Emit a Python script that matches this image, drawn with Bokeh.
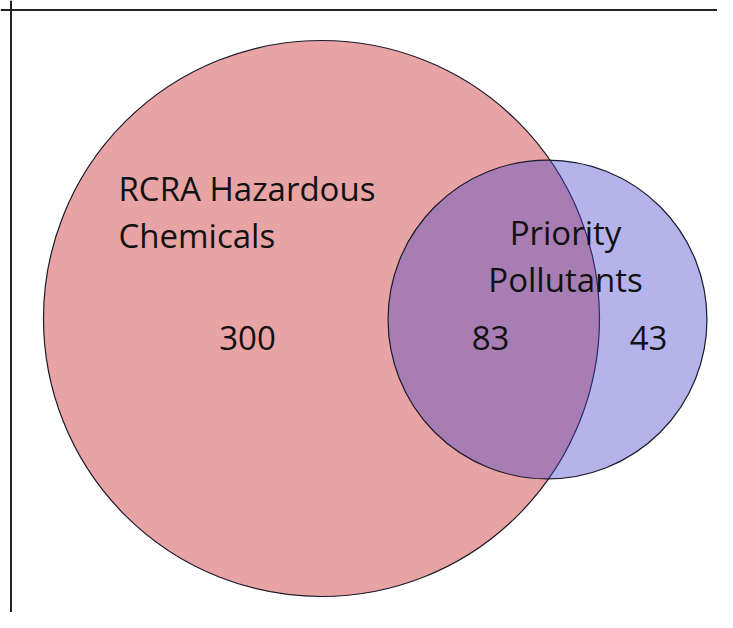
import math
from bokeh.plotting import figure
from bokeh.models import Range1d, Span, ColumnDataSource
from bokeh.core.properties import value
from bokeh.embed import file_html
from bokeh.resources import INLINE

# ---- data ----
set_labels = [["RCRA Hazardous", "Chemicals"], ["Priority", "Pollutants"]]
only_counts = [300, 43]
overlap_count = 83
set_totals = [only_counts[0] + overlap_count, only_counts[1] + overlap_count]

# ---- layout (pixel-like data space) ----
W, H = 717, 612
SCALE = 278 / math.sqrt(set_totals[0])
centers = [(321, 318), (547, 319)]
radii = [SCALE * math.sqrt(t) for t in set_totals]
fills = ["#E8A4A5", "#4644CA"]
alphas = [1.0, 0.4]

p = figure(width=W, height=H, output_backend="svg", toolbar_location=None,
           x_range=Range1d(0, W), y_range=Range1d(H, 0),
           min_border=0, outline_line_color=None)
p.axis.visible = False
p.grid.visible = False
p.background_fill_color = "white"
p.border_fill_color = "white"

for (cx, cy), r, c, a in zip(centers, radii, fills, alphas):
    p.circle(x=[cx], y=[cy], radius=r, fill_color=c, fill_alpha=a,
             line_color="#1a1a2a", line_width=1.2)

FONT = value("Open Sans")
FS = "33px"

# set name labels
label_anchor = [(118, "left"), (565, "center")]
label_baselines = [[188, 235], [232, 279]]
for lines, (lx, align), bys in zip(set_labels, label_anchor, label_baselines):
    src = ColumnDataSource(dict(x=[lx] * len(lines), y=bys, t=lines))
    p.text(x="x", y="y", text="t", source=src, text_font=FONT,
           text_font_size=FS, text_align=align, text_baseline="alphabetic",
           text_color="#111111")

# region counts
counts = [only_counts[0], overlap_count, only_counts[1]]
count_x = [247, 490, 648]
src = ColumnDataSource(dict(x=count_x, y=[337] * 3, t=[str(c) for c in counts]))
p.text(x="x", y="y", text="t", source=src, text_font=FONT,
       text_font_size=FS, text_align="center", text_baseline="alphabetic",
       text_color="#111111")

# frame lines (top and left)
p.add_layout(Span(location=9.5, dimension="width", line_color="#222222", line_width=2))
p.add_layout(Span(location=10.5, dimension="height", line_color="#222222", line_width=2))

open("out.html", "w").write(file_html(p, INLINE))
